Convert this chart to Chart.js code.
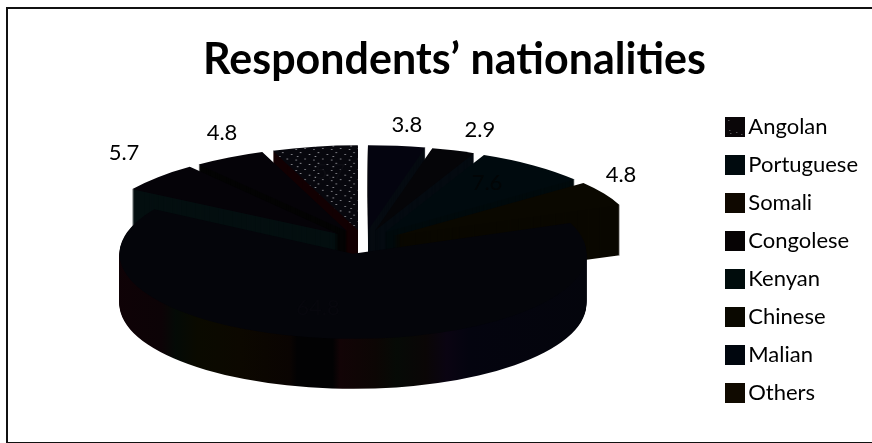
<!DOCTYPE html>
<html>
<head>
<meta charset="utf-8">
<title>Respondents' nationalities</title>
<script src="https://cdn.jsdelivr.net/npm/chart.js@4/dist/chart.umd.min.js"></script>
<style>
  html, body { margin: 0; padding: 0; background: #fff; overflow: hidden; }
  #stage { position: relative; width: 872px; height: 443px; overflow: hidden; }
  #frame { position: absolute; left: 6px; top: 7px; width: 900px; height: 433px; border: 2.5px solid #111; box-sizing: content-box; }
  canvas { position: absolute; left: 0; top: 0; }
</style>
</head>
<body>
<div id="stage">
  <div id="frame"></div>
  <canvas id="chart" width="872" height="443"></canvas>
</div>
<script>
// Survey shares, clockwise from the top-left slice.
const nationalities = ['Angolan', 'Portuguese', 'Somali', 'Congolese', 'Kenyan', 'Chinese', 'Malian', 'Others'];
const shares = [5.7, 3.8, 2.9, 7.6, 4.8, 64.8, 5.7, 4.8];

// Near-black palette of the pie faces.
const topColors = ['#07070d', '#04040f', '#050508', '#000a0e', '#0a0800', '#04050a', '#050308', '#050308'];
const sideColors = ['#120002', '#050a10', '#040a10', '#000a0c', '#0a0800', '#04050a', '#040f10', '#040404'];
const swatchColors = ['#0a0608', '#000a0e', '#0f0800', '#060304', '#000c0c', '#0a0800', '#00060e', '#100a00'];

// Pie geometry on the page (pixels). The front slice sits on a slightly narrower ellipse.
const pie = { x: 364, y: 242, rx: 243, ry: 85, depth: 50 };
const frontPie = { x: 356, rx: 233.5 };
const explode = [34, 34, 34, 34, 34, 34, 34, 34];

// Value label placement around the ellipse: bearing in degrees from the top, reach in radii.
const labelBearing = [-9.6, 7.3, 19.9, 36.1, 53.3, 193.7, 316.7, 335.5];
const labelReach = [0.836, 1.387, 1.40, 0.859, 1.319, 0.80, 1.44, 1.409];
const labelColors = ['#0c0c12', '#000', '#000', '#020506', '#000', '#07070d', '#000', '#000'];

// Slight colour shifts along the front wall of the largest slice.
const wallStops = [
  [120, '#04050a'], [190, '#05040a'], [200, '#100206'], [245, '#0c0306'], [255, '#040a06'],
  [270, '#0a0a00'], [300, '#0c0800'], [335, '#0a0402'], [340, '#020203'], [365, '#020203'],
  [370, '#120406'], [395, '#0c0604'], [410, '#060a06'], [430, '#0a0606'], [445, '#0a0412'],
  [460, '#04040f'], [590, '#04050a']
];

function speckleTile() {
  const tile = document.createElement('canvas');
  tile.width = 12; tile.height = 20;
  const g = tile.getContext('2d');
  g.fillStyle = topColors[0];
  g.fillRect(0, 0, 12, 20);
  g.fillStyle = '#8a8a90';
  [[1, 3], [7, 1], [4, 9], [10, 12], [2, 16]].forEach(([x, y]) => g.fillRect(x, y, 1, 2));
  return tile;
}

function swatch(color, speckled) {
  const box = document.createElement('canvas');
  box.width = 20; box.height = 20;
  const g = box.getContext('2d');
  g.fillStyle = color;
  g.fillRect(0, 0, 20, 20);
  if (speckled) {
    g.fillStyle = '#777';
    [[4, 13], [5, 16], [11, 15], [16, 17], [3, 3]].forEach(([x, y]) => g.fillRect(x, y, 1, 1));
  }
  return box;
}

// Paints the pie as a tilted, extruded disc using the library's arc elements.
const tiltedPie = {
  id: 'tiltedPie',
  beforeDatasetsDraw(chart) {
    const ctx = chart.ctx;
    const arcs = chart.getDatasetMeta(0).data;
    const radius = arcs[0].outerRadius;
    const sy = pie.ry / radius;
    const largest = shares.indexOf(Math.max(...shares));
    const wall = ctx.createLinearGradient(120, 0, 590, 0);
    wallStops.forEach(([x, c]) => wall.addColorStop((x - 120) / 470, c));

    const paint = (arc, i, drop, fill) => {
      const mid = (arc.startAngle + arc.endAngle) / 2;
      const shape = i === largest ? frontPie : pie;
      const saved = arc.options;
      arc.options = Object.assign(Object.create(saved), fill ? { backgroundColor: fill } : {});
      ctx.save();
      ctx.translate(shape.x + Math.cos(mid) * explode[i],
                    pie.y + Math.sin(mid) * explode[i] * (pie.ry / pie.rx) + drop);
      ctx.scale(shape.rx / radius, sy);
      ctx.translate(-arc.x, -arc.y);
      arc.draw(ctx);
      ctx.restore();
      arc.options = saved;
    };

    // Farthest slices first, so the nearer ones overlap them.
    const order = arcs.map((arc, i) => i).sort((a, b) => {
      const ma = (arcs[a].startAngle + arcs[a].endAngle) / 2;
      const mb = (arcs[b].startAngle + arcs[b].endAngle) / 2;
      return Math.sin(ma) - Math.sin(mb);
    });
    order.forEach(i => {
      for (let drop = pie.depth; drop > 0; drop--) {
        paint(arcs[i], i, drop, i === largest ? wall : sideColors[i]);
      }
      paint(arcs[i], i, 0, null);
    });

    // Value labels.
    ctx.save();
    ctx.font = '22px Lato';
    ctx.textAlign = 'center';
    ctx.textBaseline = 'middle';
    shares.forEach((v, i) => {
      const b = labelBearing[i] * Math.PI / 180;
      ctx.fillStyle = labelColors[i];
      ctx.fillText(v.toFixed(1),
                   pie.x + Math.sin(b) * labelReach[i] * pie.rx,
                   pie.y - Math.cos(b) * labelReach[i] * pie.ry);
    });
    ctx.restore();
    return false;
  }
};

const ctx = document.getElementById('chart').getContext('2d');
const pieFills = topColors.slice();
pieFills[0] = ctx.createPattern(speckleTile(), 'repeat');

new Chart(ctx, {
  type: 'pie',
  plugins: [tiltedPie],
  data: {
    labels: nationalities,
    datasets: [{ data: shares, backgroundColor: pieFills, borderWidth: 0 }]
  },
  options: {
    responsive: false,
    animation: false,
    rotation: -shares[0] * 3.6,
    layout: { padding: { left: 41, right: 4, top: 34, bottom: -43 } },
    plugins: {
      tooltip: { enabled: false },
      title: {
        display: true,
        text: 'Respondents\u2019 nationalities',
        color: '#000',
        font: { family: 'Lato', size: 43, weight: 'bold' },
        padding: { top: 0, bottom: 30 }
      },
      legend: {
        position: 'right',
        labels: {
          color: '#000',
          font: { family: 'Lato', size: 22 },
          padding: 16,
          usePointStyle: true,
          pointStyleWidth: 4,
          boxHeight: 20,
          generateLabels: () => nationalities.map((name, i) => ({
            text: name,
            fontColor: '#000',
            pointStyle: swatch(swatchColors[i], i === 0),
            lineWidth: 0,
            hidden: false,
            index: i
          }))
        }
      }
    }
  }
});
</script>
</body>
</html>
